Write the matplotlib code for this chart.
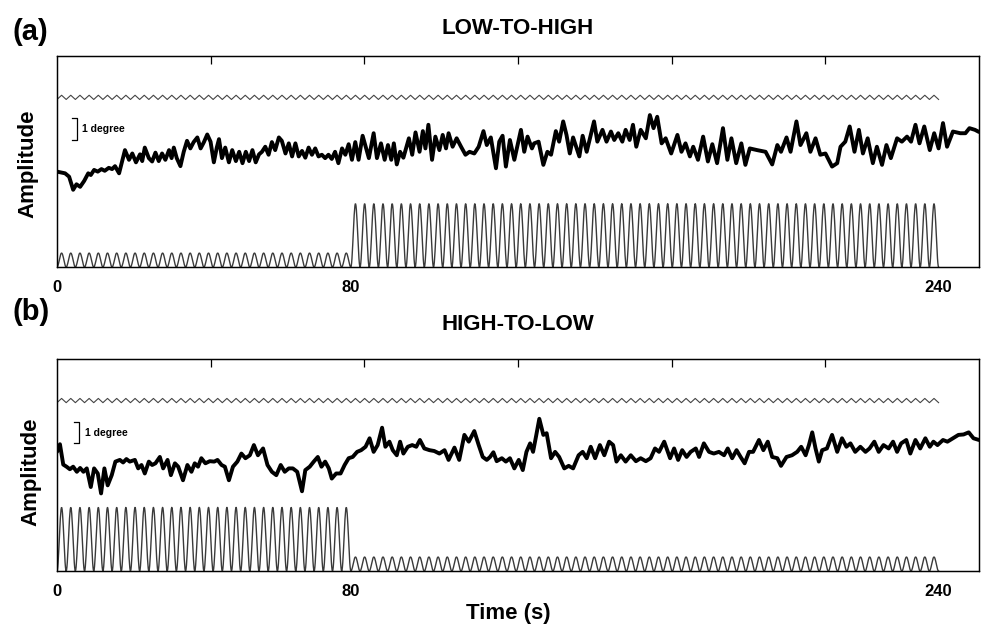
import numpy as np
import matplotlib.pyplot as plt

plt.rcParams['font.family'] = ['Liberation Sans', 'DejaVu Sans']
plt.rcParams['font.weight'] = 'bold'

# eye-position traces: (time s, amplitude)
trace_low_high = [
    (0.0, 2.26), (2.2, 2.22), (3.3, 2.14), (4.4, 1.83), (5.3, 1.96), (6.3, 1.90), (7.4, 2.04),
    (8.5, 2.22), (9.2, 2.18), (10.1, 2.30), (11.1, 2.26), (12.1, 2.32), (13.0, 2.28), (14.1, 2.35),
    (15.0, 2.32), (15.8, 2.39), (16.9, 2.22), (18.5, 2.77), (19.6, 2.54), (20.5, 2.69), (21.5, 2.48),
    (22.6, 2.67), (23.2, 2.51), (23.9, 2.83), (25.0, 2.58), (25.9, 2.50), (26.8, 2.71), (27.7, 2.51),
    (28.6, 2.69), (29.5, 2.54), (30.5, 2.77), (31.2, 2.58), (31.8, 2.83), (32.6, 2.58), (33.6, 2.39),
    (34.5, 2.73), (35.4, 2.99), (36.3, 2.81), (37.2, 2.96), (38.2, 3.07), (39.1, 2.81), (40.0, 2.96),
    (40.9, 3.14), (41.8, 2.97), (42.7, 2.48), (43.5, 2.83), (44.1, 3.03), (44.9, 2.58), (45.8, 2.83),
    (46.8, 2.48), (47.7, 2.77), (48.7, 2.51), (49.6, 2.73), (50.5, 2.46), (51.4, 2.73), (52.3, 2.51),
    (53.2, 2.77), (54.1, 2.48), (55.0, 2.67), (55.8, 2.73), (56.7, 2.85), (57.6, 2.66), (58.5, 2.96),
    (59.4, 2.77), (60.4, 3.07), (61.2, 2.99), (62.2, 2.69), (63.1, 2.93), (64.0, 2.62), (64.9, 2.93),
    (65.8, 2.62), (66.7, 2.75), (67.6, 2.59), (68.5, 2.83), (69.4, 2.66), (70.3, 2.81), (71.2, 2.62),
    (72.1, 2.66), (73.0, 2.58), (73.9, 2.66), (74.8, 2.56), (75.7, 2.73), (76.6, 2.46), (77.6, 2.81),
    (78.5, 2.66), (79.4, 2.91), (80.3, 2.54), (81.2, 2.96), (82.1, 2.54), (83.2, 3.11), (84.9, 2.58),
    (86.2, 3.17), (87.1, 2.58), (88.2, 2.93), (89.2, 2.54), (90.1, 2.89), (91.0, 2.54), (91.7, 2.93),
    (92.5, 2.43), (93.4, 2.73), (94.3, 2.59), (95.8, 3.05), (96.7, 2.66), (97.6, 3.19), (98.7, 2.73),
    (99.6, 3.22), (100.3, 2.81), (101.1, 3.37), (102.1, 2.54), (103.0, 3.09), (104.1, 2.77),
    (105.0, 3.13), (105.9, 2.81), (106.6, 3.17), (107.7, 2.85), (108.8, 3.05), (110.0, 2.85),
    (111.2, 2.66), (112.3, 2.73), (113.6, 2.69), (114.8, 2.85), (116.1, 3.22), (117.0, 2.89),
    (118.1, 3.07), (119.5, 2.34), (120.4, 2.97), (121.3, 3.11), (122.2, 2.38), (123.3, 3.01),
    (124.5, 2.54), (126.3, 3.25), (127.2, 2.73), (128.1, 3.09), (129.3, 2.81), (129.9, 2.93),
    (131.1, 2.97), (132.4, 2.42), (133.5, 2.73), (134.5, 2.66), (135.8, 3.22), (136.7, 2.97),
    (137.8, 3.45), (138.7, 3.13), (139.6, 2.69), (140.5, 3.07), (142.2, 2.62), (143.1, 3.11),
    (144.2, 2.73), (146.2, 3.45), (147.1, 2.97), (148.5, 3.25), (149.6, 2.97), (150.8, 3.21),
    (151.7, 3.01), (152.8, 3.17), (153.9, 2.97), (154.8, 3.25), (155.9, 3.01), (156.8, 3.37),
    (157.7, 2.85), (158.9, 3.25), (160.3, 3.05), (161.4, 3.60), (162.4, 3.29), (163.4, 3.56),
    (164.6, 2.93), (165.7, 3.05), (167.2, 2.69), (168.9, 3.13), (170.0, 2.73), (171.1, 2.93),
    (172.3, 2.62), (173.2, 2.85), (174.5, 2.54), (175.9, 3.09), (177.2, 2.50), (178.4, 2.91),
    (179.7, 2.46), (181.3, 3.29), (182.5, 2.54), (183.6, 3.05), (184.9, 2.46), (186.3, 2.93),
    (187.4, 2.42), (188.6, 2.81), (190.6, 2.77), (192.9, 2.73), (194.7, 2.43), (196.1, 2.89),
    (197.1, 2.73), (198.6, 3.07), (199.7, 2.73), (201.3, 3.45), (202.4, 2.89), (204.0, 3.17),
    (205.1, 2.73), (206.5, 3.05), (207.8, 2.66), (209.2, 2.69), (211.0, 2.38), (212.4, 2.46),
    (213.3, 2.85), (214.6, 2.97), (215.8, 3.33), (217.1, 2.73), (218.3, 3.25), (219.4, 2.69),
    (220.7, 3.05), (222.1, 2.46), (223.2, 2.85), (224.6, 2.42), (225.8, 2.89), (227.0, 2.58),
    (228.7, 3.05), (230.0, 2.97), (231.4, 3.09), (232.5, 2.97), (233.7, 3.37), (234.8, 2.93),
    (236.1, 3.33), (237.6, 2.77), (238.8, 3.17), (240.0, 2.81), (241.2, 3.41), (242.3, 2.85),
    (243.9, 3.21), (245.9, 3.17), (247.3, 3.17), (248.4, 3.29), (249.9, 3.25), (251.0, 3.20),
]

trace_high_low = [
    (0.0, 2.81), (0.8, 2.99), (1.7, 2.51), (2.6, 2.46), (3.5, 2.40), (4.4, 2.46), (5.4, 2.34),
    (6.3, 2.43), (7.2, 2.34), (8.1, 2.42), (9.2, 1.98), (10.1, 2.42), (11.1, 2.30), (12.0, 1.83),
    (12.9, 2.42), (13.8, 2.02), (14.9, 2.26), (15.9, 2.58), (17.1, 2.62), (18.0, 2.56), (18.9, 2.64),
    (19.8, 2.58), (21.2, 2.62), (22.1, 2.42), (23.0, 2.50), (23.9, 2.30), (25.0, 2.58), (25.9, 2.50),
    (26.8, 2.54), (28.0, 2.69), (28.9, 2.42), (30.1, 2.62), (31.0, 2.26), (32.1, 2.54), (33.0, 2.46),
    (34.3, 2.14), (35.5, 2.50), (36.6, 2.34), (37.5, 2.54), (38.4, 2.46), (39.3, 2.66), (40.4, 2.54),
    (41.6, 2.59), (42.8, 2.58), (43.7, 2.62), (44.8, 2.50), (45.7, 2.46), (46.8, 2.14), (47.9, 2.46),
    (49.1, 2.58), (50.2, 2.77), (51.3, 2.66), (52.5, 2.73), (53.6, 2.97), (54.7, 2.73), (56.1, 2.89),
    (57.3, 2.50), (58.5, 2.34), (59.7, 2.26), (60.9, 2.50), (62.0, 2.34), (63.1, 2.42), (64.2, 2.42),
    (65.4, 2.34), (66.7, 1.88), (67.6, 2.38), (68.8, 2.46), (69.9, 2.58), (71.0, 2.69), (72.0, 2.46),
    (73.0, 2.58), (74.0, 2.42), (74.8, 2.18), (76.0, 2.30), (77.2, 2.30), (78.3, 2.50), (79.4, 2.66),
    (80.5, 2.69), (81.7, 2.81), (82.8, 2.85), (84.0, 2.93), (85.1, 3.13), (86.2, 2.81), (87.3, 2.97),
    (88.5, 3.38), (89.4, 2.93), (90.5, 3.05), (91.4, 2.85), (92.5, 2.73), (93.4, 3.05), (94.3, 2.77),
    (95.5, 2.93), (96.7, 2.97), (97.8, 2.93), (98.8, 3.09), (100.0, 2.89), (101.4, 2.85),
    (102.7, 2.83), (104.1, 2.77), (105.5, 2.85), (106.6, 2.62), (108.2, 2.91), (109.5, 2.62),
    (110.9, 3.21), (112.1, 3.05), (113.6, 3.30), (114.8, 2.97), (115.9, 2.69), (117.0, 2.62),
    (117.9, 2.69), (118.8, 2.80), (119.7, 2.59), (121.1, 2.66), (122.2, 2.58), (123.3, 2.66),
    (124.5, 2.42), (125.7, 2.62), (126.8, 2.38), (127.8, 2.81), (128.8, 3.01), (129.6, 2.81),
    (130.4, 3.17), (131.3, 3.59), (132.4, 3.21), (133.3, 3.25), (134.5, 2.66), (135.6, 2.81),
    (136.7, 2.69), (138.1, 2.42), (139.3, 2.48), (140.5, 2.42), (142.0, 2.73), (143.1, 2.81),
    (144.2, 2.66), (145.3, 2.93), (146.5, 2.66), (147.8, 2.97), (149.0, 2.73), (150.3, 3.05),
    (151.4, 2.97), (152.3, 2.58), (153.5, 2.73), (154.8, 2.58), (156.2, 2.73), (157.6, 2.59),
    (158.9, 2.66), (160.3, 2.59), (161.6, 2.66), (162.8, 2.89), (163.9, 2.81), (165.3, 3.05),
    (166.9, 2.66), (168.0, 2.89), (169.1, 2.62), (170.2, 2.85), (171.4, 2.69), (172.5, 2.81),
    (173.9, 2.89), (174.8, 2.69), (176.1, 3.01), (177.5, 2.81), (178.8, 2.77), (180.2, 2.81),
    (181.6, 2.73), (182.6, 2.89), (183.8, 2.66), (185.0, 2.85), (186.1, 2.69), (187.2, 2.54),
    (188.4, 2.81), (189.5, 2.81), (191.1, 3.09), (192.3, 2.85), (193.5, 3.05), (194.7, 2.69),
    (196.1, 2.66), (197.1, 2.48), (198.6, 2.69), (200.1, 2.73), (201.5, 2.81), (202.6, 2.93),
    (203.8, 2.73), (204.7, 2.97), (205.6, 3.27), (206.5, 2.89), (207.4, 2.58), (208.3, 2.85),
    (209.6, 2.89), (211.0, 3.21), (212.4, 2.81), (213.7, 3.13), (214.9, 2.93), (216.0, 3.01),
    (217.3, 2.81), (218.7, 2.93), (220.1, 2.81), (221.2, 2.89), (222.5, 3.05), (223.7, 2.81),
    (225.0, 2.97), (226.4, 2.89), (227.6, 3.05), (228.7, 2.81), (229.8, 3.01), (231.2, 3.09),
    (232.3, 2.77), (233.7, 3.09), (235.0, 2.89), (236.4, 3.13), (237.6, 2.93), (238.6, 3.05),
    (239.7, 2.97), (241.2, 3.09), (242.4, 3.05), (243.9, 3.13), (245.4, 3.21), (246.8, 3.22),
    (248.2, 3.27), (249.5, 3.13), (251.0, 3.09),
]

# stimulus description
stim_period = 2.5          # s
switch_time = 80           # s
end_time = 240             # s
low_amp = 0.33
high_amp = 1.5
ref_level = 4.02
ref_halfamp = 0.05

xtick_vals = [0, 80, 240]
x_max = 251


def stimulus(amp_first, amp_second):
    t1 = np.linspace(0, switch_time, 800)
    t2 = np.linspace(switch_time, end_time, 1600)
    y1 = amp_first * (1 - np.cos(2 * np.pi * t1 / stim_period)) / 2
    y2 = amp_second * (1 - np.cos(2 * np.pi * (t2 - switch_time) / stim_period)) / 2
    return np.concatenate([t1, t2]), np.concatenate([y1, y2])


def reference():
    t = np.arange(0, end_time + 0.01, stim_period / 2)
    y = ref_level + ref_halfamp * np.where(np.arange(len(t)) % 2 == 0, -1, 1)
    return t, y


def draw_panel(ax, trace, amps):
    tt, vv = zip(*trace)
    rt, ry = reference()
    ax.plot(rt, ry, color='#444444', lw=0.8)
    st, sy = stimulus(*amps)
    ax.plot(st, sy, color='#3a3a3a', lw=1.0)
    ax.plot(tt, vv, color='black', lw=2.8, solid_joinstyle='round', solid_capstyle='round')

    ax.set_xlim(0, x_max)
    ax.set_ylim(0, 5)
    ax.set_yticks(range(6))
    ax.set_yticklabels([])
    ax.set_xticks(xtick_vals)
    ax.set_xticklabels([str(v) for v in xtick_vals], fontsize=12, fontweight='bold')
    ax.tick_params(axis='x', direction='in', length=0, pad=9)
    ax.tick_params(axis='y', direction='in', length=5, left=True, right=True, width=0.8)
    for s in ax.spines.values():
        s.set_linewidth(0.9)

    # unlabeled ticks along the top edge
    top = ax.twiny()
    top.set_xlim(0, x_max)
    top.set_xticks(np.linspace(0, x_max, 7)[1:-1])
    top.set_xticklabels([])
    top.tick_params(axis='x', direction='in', length=6, width=0.9, top=True, bottom=False)
    top.set_yticks([])
    for s in top.spines.values():
        s.set_linewidth(0.9)


fig = plt.figure(figsize=(9.81, 6.28), dpi=100)
ax1 = fig.add_axes([57 / 981, 1 - 267 / 628, 922 / 981, 211 / 628])
ax2 = fig.add_axes([57 / 981, 1 - 571 / 628, 922 / 981, 212 / 628])

draw_panel(ax1, trace_low_high, (low_amp, high_amp))
draw_panel(ax2, trace_high_low, (high_amp, low_amp))

# 1 degree scale bars
for ax, x0 in [(ax1, 5.4), (ax2, 6.0)]:
    ax.plot([x0 - 1.4, x0, x0, x0 - 1.4], [3.52, 3.52, 3.01, 3.01], color='black', lw=0.9)
    ax.text(x0 + 1.5, 3.26, '1 degree', fontsize=7.5, fontweight='bold', va='center')

fig.text(518 / 981, 1 - 28 / 628, 'LOW-TO-HIGH', ha='center', va='center', fontsize=16, fontweight='bold')
fig.text(518 / 981, 1 - 324 / 628, 'HIGH-TO-LOW', ha='center', va='center', fontsize=16, fontweight='bold')
fig.text(12 / 981, 1 - 32 / 628, '(a)', ha='left', va='center', fontsize=21, fontweight='bold')
fig.text(12 / 981, 1 - 312 / 628, '(b)', ha='left', va='center', fontsize=21, fontweight='bold')
fig.text(28 / 981, 1 - 164 / 628, 'Amplitude', ha='center', va='center', rotation=90, fontsize=16, fontweight='bold')
fig.text(31 / 981, 1 - 472 / 628, 'Amplitude', ha='center', va='center', rotation=90, fontsize=16, fontweight='bold')
fig.text(508 / 981, 1 - 614 / 628, 'Time (s)', ha='center', va='center', fontsize=16, fontweight='bold')

fig.savefig('out.png', dpi=100)
